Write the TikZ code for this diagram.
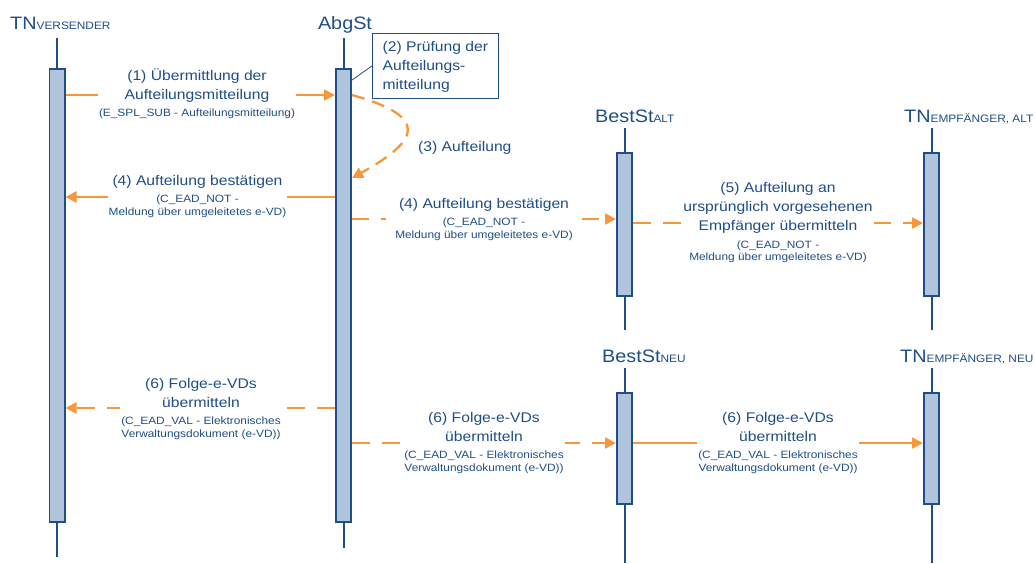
\documentclass[tikz,border=0pt]{standalone}
\usepackage{fontspec}
\setmainfont{Liberation Sans}
\usepackage{graphicx}
\usetikzlibrary{arrows.meta}
\definecolor{dblue}{RGB}{31,78,135}
\definecolor{barfill}{RGB}{176,196,222}
\definecolor{orng}{RGB}{248,150,60}
\newcommand{\mainln}[1]{\rule[-5pt]{0pt}{19pt}\smash{\fontsize{14}{16}\selectfont #1}}
\newcommand{\subln}[1]{\rule{0pt}{12.5pt}\smash{\fontsize{10.6}{12}\selectfont #1}}
\newcommand{\lab}[2][c]{\scalebox{1.12}[1]{\def\arraystretch{0}\setlength\tabcolsep{0pt}\begin{tabular}{#1}#2\end{tabular}}}
\newcommand{\ttltxt}[2]{\scalebox{1.1}[1]{\fontsize{18}{20}\selectfont #1\fontsize{10.8}{12}\selectfont #2}}
\begin{document}
\begin{tikzpicture}[x=1pt,y=-1pt,
  life/.style={draw=dblue,line width=2pt},
  bar/.style={draw=dblue,fill=barfill,line width=1.8pt,minimum width=15.2pt,inner sep=0pt,anchor=north},
  msg/.style={draw=orng,line width=2.3pt,-{Triangle[length=11pt,width=11pt]}},
  dsh/.style={dash pattern=on 18pt off 12pt},
  dshdot/.style={dash pattern=on 17pt off 12pt on 5pt off 12pt},
  lbl/.style={fill=white,inner xsep=1pt,inner ysep=0pt,text=dblue},
  ttl/.style={anchor=base west,inner sep=0pt,text=dblue}]
\path[fill=white] (0,0) rectangle (1035,563);
\useasboundingbox (0,0) rectangle (1035,563);

% titles
\node[ttl] (tv) at (10,29) {\ttltxt{TN}{VERSENDER}};
\node[anchor=base,inner sep=0pt,text=dblue] (ta) at (345,29) {\ttltxt{AbgSt}{}};
\node[ttl] (tsa) at (595,122) {\ttltxt{BestSt}{ALT}};
\node[ttl] (tea) at (904,122) {\ttltxt{TN}{EMPFÄNGER, ALT}};
\node[ttl] (tsn) at (602,362) {\ttltxt{BestSt}{NEU}};
\node[ttl] (ten) at (900,362) {\ttltxt{TN}{EMPFÄNGER, NEU}};

% lifelines
\draw[life] (57,38) -- (57,557);
\draw[life] (343.5,38) -- (343.5,548);
\draw[life] (624.5,128) -- (624.5,330);
\draw[life] (931.5,128) -- (931.5,330);
\draw[life] (624.5,368) -- (624.5,563);
\draw[life] (931.5,368) -- (931.5,563);

% activation bars
\node[bar,minimum height=453.2pt] (bv) at (57,67.9) {};
\node[bar,minimum height=453.2pt] (ba) at (343.5,67.9) {};
\node[bar,minimum height=143.2pt] (bsa) at (624.5,151.9) {};
\node[bar,minimum height=143.2pt] (bta) at (931.5,151.9) {};
\node[bar,minimum height=111.2pt] (bsn) at (624.5,391.9) {};
\node[bar,minimum height=111.2pt] (btn) at (931.5,391.9) {};

% messages
\draw[msg] (bv.east |- 0,95) -- (ba.west |- 0,95);
\draw[msg] (ba.west |- 0,197) -- (bv.east |- 0,197);
\draw[msg,dshdot] (ba.east |- 0,219) -- (bsa.west |- 0,219);
\draw[msg,dsh] (bsa.east |- 0,223) -- (bta.west |- 0,223);
\draw[msg,dsh] (ba.west |- 0,408) -- (bv.east |- 0,408);
\draw[msg,dsh] (ba.east |- 0,443) -- (bsn.west |- 0,443);
\draw[msg] (bsn.east |- 0,443) -- (btn.west |- 0,443);
\draw[msg,dash pattern=on 13pt off 8pt] (ba.east |- 0,95) .. controls (430,117) and (420,140) .. (ba.east |- 0,178);

% note
\node[draw=dblue,line width=0.8pt,fill=white,anchor=north west,inner xsep=10pt,inner ysep=4pt,minimum width=126pt,text=dblue] (note) at (372,33)
  {\lab[l]{\mainln{(2) Prüfung der}\\\mainln{Aufteilungs-}\\\mainln{mitteilung}}};
\draw[dblue,line width=0.8pt] (note.west) -- (ba.east |- 0,80);

% labels
\node[lbl] (l1) at (197,91.25) {\lab{\mainln{(1) Übermittlung der}\\\mainln{Aufteilungsmitteilung}\\\subln{(E\_SPL\_SUB - Aufteilungsmitteilung)}}};
\node[anchor=base west,inner sep=0pt,text=dblue] (l3) at (418,151) {\scalebox{1.12}[1]{\fontsize{14}{16}\selectfont (3) Aufteilung}};
\node[lbl] (l4a) at (197.5,193) {\lab{\mainln{(4) Aufteilung bestätigen}\\\subln{(C\_EAD\_NOT -}\\\subln{Meldung über umgeleitetes e-VD)}}};
\node[lbl] (l4b) at (484,216) {\lab{\mainln{(4) Aufteilung bestätigen}\\\subln{(C\_EAD\_NOT -}\\\subln{Meldung über umgeleitetes e-VD)}}};
\node[lbl] (l5) at (778,219.5) {\lab{\mainln{(5) Aufteilung an}\\\mainln{ursprünglich vorgesehenen}\\\mainln{Empfänger übermitteln}\\\subln{(C\_EAD\_NOT -}\\\subln{Meldung über umgeleitetes e-VD)}}};
\node[lbl] (l6a) at (201,405.5) {\lab{\mainln{(6) Folge-e-VDs}\\\mainln{übermitteln}\\\subln{(C\_EAD\_VAL - Elektronisches}\\\subln{Verwaltungsdokument (e-VD))}}};
\node[lbl] (l6b) at (484,439.5) {\lab{\mainln{(6) Folge-e-VDs}\\\mainln{übermitteln}\\\subln{(C\_EAD\_VAL - Elektronisches}\\\subln{Verwaltungsdokument (e-VD))}}};
\node[lbl] (l6c) at (778,439.5) {\lab{\mainln{(6) Folge-e-VDs}\\\mainln{übermitteln}\\\subln{(C\_EAD\_VAL - Elektronisches}\\\subln{Verwaltungsdokument (e-VD))}}};
\end{tikzpicture}
\end{document}
